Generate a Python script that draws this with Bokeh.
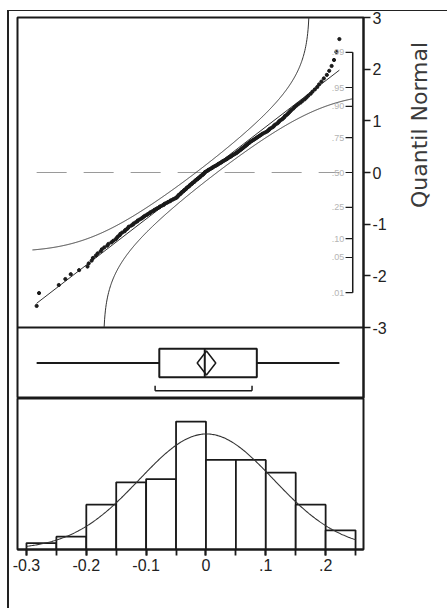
import math
from statistics import NormalDist

import numpy as np
from bokeh.core.properties import value
from bokeh.embed import file_html
from bokeh.layouts import column
from bokeh.models import FixedTicker, Range1d, Span
from bokeh.plotting import figure
from bokeh.resources import INLINE

# Sample values (sorted), one per observation
values = [
    -0.283, -0.279,
    -0.246, -0.235, -0.226, -0.212,
    -0.198, -0.196, -0.191, -0.189, -0.184, -0.181, -0.176, -0.174, -0.170, -0.165,
    -0.163, -0.158, -0.155, -0.151,
    -0.149, -0.147, -0.144, -0.143, -0.140, -0.136, -0.135, -0.132, -0.130, -0.129,
    -0.125, -0.122, -0.121, -0.118, -0.115, -0.114, -0.111, -0.108, -0.106, -0.104,
    -0.102,
    -0.099, -0.097, -0.094, -0.093, -0.090, -0.087, -0.086, -0.083, -0.081, -0.078,
    -0.077, -0.074, -0.071, -0.070, -0.068, -0.065, -0.063, -0.060, -0.059, -0.056,
    -0.054, -0.051,
    -0.049, -0.048, -0.047, -0.046, -0.045, -0.043, -0.042, -0.041, -0.040, -0.038,
    -0.037, -0.036, -0.034, -0.033, -0.032, -0.031, -0.029, -0.028, -0.027, -0.026,
    -0.024, -0.023, -0.022, -0.020, -0.019, -0.018, -0.017, -0.015, -0.014, -0.013,
    -0.011, -0.010, -0.009, -0.008, -0.006, -0.005, -0.004, -0.003, -0.002, -0.001,
    0.001, 0.003, 0.004, 0.006, 0.008, 0.010, 0.011, 0.013, 0.015, 0.017,
    0.019, 0.020, 0.022, 0.024, 0.026, 0.027, 0.029, 0.031, 0.033, 0.035,
    0.036, 0.038, 0.040, 0.042, 0.043, 0.045, 0.047, 0.049,
    0.051, 0.052, 0.054, 0.055, 0.057, 0.058, 0.060, 0.061, 0.063, 0.064,
    0.066, 0.067, 0.069, 0.070, 0.072, 0.073, 0.075, 0.077, 0.079, 0.081,
    0.083, 0.085, 0.087, 0.089, 0.091, 0.093, 0.095, 0.098,
    0.101, 0.103, 0.105, 0.106, 0.108, 0.111, 0.113, 0.114, 0.116, 0.119,
    0.121, 0.122, 0.124, 0.127, 0.129, 0.131, 0.132, 0.135, 0.137, 0.139,
    0.141, 0.143, 0.146, 0.148,
    0.151, 0.154, 0.158, 0.161, 0.165, 0.168, 0.171, 0.175, 0.178, 0.182,
    0.186, 0.189, 0.193, 0.197,
    0.202, 0.206, 0.210, 0.214, 0.218, 0.223,
]

hist_edges = [-0.30, -0.25, -0.20, -0.15, -0.10, -0.05, 0.0, 0.05, 0.10, 0.15, 0.20, 0.25]
x_ticks = [-0.3, -0.2, -0.1, 0.0, 0.1, 0.2]
x_tick_labels = ["-0.3", "-0.2", "-0.1", "0", ".1", ".2"]
quantile_ticks = [-3, -2, -1, 0, 1, 2, 3]
quantile_labels = ["-3", "-2", "-1", "0", "1", "2", "3"]
prob_levels = [0.01, 0.05, 0.10, 0.25, 0.50, 0.75, 0.90, 0.95, 0.99]
prob_labels = [".01", ".05", ".10", ".25", ".50", ".75", ".90", ".95", ".99"]
shortest_half = [-0.085, 0.077]
band_span = [-0.290, 0.245]

INK = "#1a1a1a"
TICK_FONT = "Liberation Sans"

nd = NormalDist()
data = np.sort(np.array(values))
n = len(data)
mean = float(data.mean())
sd = float(data.std(ddof=1))

# Normal quantiles of the ranks
qq_z = np.array([nd.inv_cdf(r / (n + 1)) for r in range(1, n + 1)])

# Lilliefors 95% confidence bounds
D = 0.886 / np.sqrt(n)
bx = np.linspace(band_span[0], band_span[1], 800)
bp = np.array([nd.cdf((v - mean) / sd) for v in bx])
upper = np.array([nd.inv_cdf(min(q + D, 1 - 1e-9)) for q in bp])
lower = np.array([nd.inv_cdf(max(q - D, 1e-9)) for q in bp])
cut = int(np.nonzero(lower < -3)[0].max())
lower_x = bx[cut:]
lower_y = np.concatenate([[-3.0], lower[cut + 1:]])

x_range = Range1d(-0.315, 0.2633)
FW, LB, RB = 438, 8, 83
QQ_PX, BOX_PX = 310, 71


def base(height, top=0, bottom=0, **kw):
    p = figure(width=FW, height=height, x_range=x_range, output_backend="svg",
               toolbar_location=None, min_border_left=LB, min_border_right=RB,
               min_border_top=top, min_border_bottom=bottom, **kw)
    p.grid.visible = False
    p.outline_line_color = INK
    p.outline_line_width = 2
    p.background_fill_color = "white"
    p.border_fill_alpha = 0
    return p


# ---- normal quantile plot with the box plot strip beneath it ----
p1 = base(14 + QQ_PX + BOX_PX, top=14,
          y_range=Range1d(-3 - 6 * BOX_PX / QQ_PX, 3),
          x_axis_location=None, y_axis_location="right")
p1.margin = (-8, 0, 0, 0)
p1.extra_y_ranges = {"box": Range1d(0, (QQ_PX + BOX_PX) / BOX_PX)}

ax = p1.yaxis[0]
ax.ticker = FixedTicker(ticks=quantile_ticks)
ax.major_label_overrides = dict(zip(quantile_ticks, quantile_labels))
ax.axis_line_color = INK
ax.axis_line_width = 2
ax.major_tick_out = 7
ax.major_tick_in = 0
ax.major_tick_line_color = INK
ax.major_tick_line_width = 1.5
ax.minor_tick_line_color = None
ax.major_label_standoff = 2
ax.major_label_text_font = TICK_FONT
ax.major_label_text_font_size = "16px"
ax.major_label_text_color = "#222"
ax.axis_label = "Quantil Normal"
ax.axis_label_orientation = math.pi / 2
ax.axis_label_text_font = "DejaVu Sans"
ax.axis_label_text_font_style = "normal"
ax.axis_label_text_font_size = "22px"
ax.axis_label_text_color = "#3a3a3a"
ax.axis_label_standoff = 30

p1.add_layout(Span(location=-3, dimension="width", line_color=INK, line_width=2))

p1.line([data[0], data[-1]], [0, 0], line_color="#9a9a9a", line_width=1.2,
        line_dash="30 17")
p1.line(bx, upper, line_color="#333", line_width=1)
p1.line(lower_x, lower_y, line_color="#333", line_width=1)
p1.line([data[0], data[-1]], [(data[0] - mean) / sd, (data[-1] - mean) / sd],
        line_color="#333", line_width=1)
p1.scatter(data, qq_z, size=3.2, color=INK)

# probability scale inside the plot
prob_z = [nd.inv_cdf(q) for q in prob_levels]
axis_x = x_range.end - 0.018
p1.line([axis_x, axis_x], [prob_z[0], prob_z[-1]], line_color=INK, line_width=1.5)
p1.segment(x0=[axis_x - 0.012] * len(prob_z), y0=prob_z,
           x1=[axis_x] * len(prob_z), y1=prob_z, line_color=INK, line_width=1.2)
p1.text(x=[axis_x - 0.014] * len(prob_z), y=prob_z, text=prob_labels,
        text_align="right", text_baseline="middle", text_font_size="9px",
        text_color="#b4b4b4", text_font=value("Liberation Sans"))

# box plot: whiskers, quartile box, mean diamond, median, shortest half
q1, med, q3 = np.percentile(data, [25, 50, 75], method="weibull")
ci = 1.972 * sd / np.sqrt(n)
bk = dict(y_range_name="box", line_color=INK)
p1.segment(x0=[data[0]], y0=[0.5], x1=[data[-1]], y1=[0.5], line_width=2, **bk)
p1.quad(left=[q1], right=[q3], bottom=[0.30], top=[0.70], fill_color="white",
        line_width=2, **bk)
p1.patch([mean - ci, mean, mean + ci, mean], [0.5, 0.67, 0.5, 0.33],
         fill_color="white", line_width=1.5, **bk)
p1.segment(x0=[med], y0=[0.30], x1=[med], y1=[0.70], line_width=2, **bk)
lo, hi = shortest_half
p1.segment(x0=[lo, lo, hi], y0=[0.11, 0.11, 0.11], x1=[hi, lo, hi],
           y1=[0.11, 0.18, 0.18], line_width=1.5, **bk)

# ---- histogram ----
counts, _ = np.histogram(data, bins=hist_edges)
p3 = base(210, bottom=59, y_range=Range1d(0, counts.max() * 1.18), y_axis_location=None)
p3.quad(left=hist_edges[:-1], right=hist_edges[1:], bottom=0, top=counts,
        fill_color="white", line_color=INK, line_width=1.8)
binw = hist_edges[1] - hist_edges[0]
cx = np.linspace(hist_edges[0], hist_edges[-1], 300)
cy = n * binw * np.exp(-0.5 * ((cx - mean) / sd) ** 2) / (sd * np.sqrt(2 * np.pi))
p3.line(cx, cy, line_color="#333", line_width=1.1)

xa = p3.xaxis[0]
xa.ticker = FixedTicker(ticks=x_ticks, minor_ticks=hist_edges)
xa.major_label_overrides = dict(zip(x_ticks, x_tick_labels))
xa.axis_line_color = INK
xa.axis_line_width = 2
xa.major_tick_out = 6
xa.major_tick_in = 0
xa.minor_tick_out = 6
xa.minor_tick_in = 0
xa.major_tick_line_color = INK
xa.minor_tick_line_color = INK
xa.major_tick_line_width = 1.8
xa.minor_tick_line_width = 1.8
xa.major_label_standoff = 3
xa.major_label_text_font = TICK_FONT
xa.major_label_text_font_size = "16px"
xa.major_label_text_color = "#222"

layout = column(p1, p3, spacing=0, margin=(10, 0, 0, 7),
                styles={"border-left": "2px solid #222", "border-top": "1px solid #222"})

open("out.html", "w").write(file_html(layout, INLINE))
